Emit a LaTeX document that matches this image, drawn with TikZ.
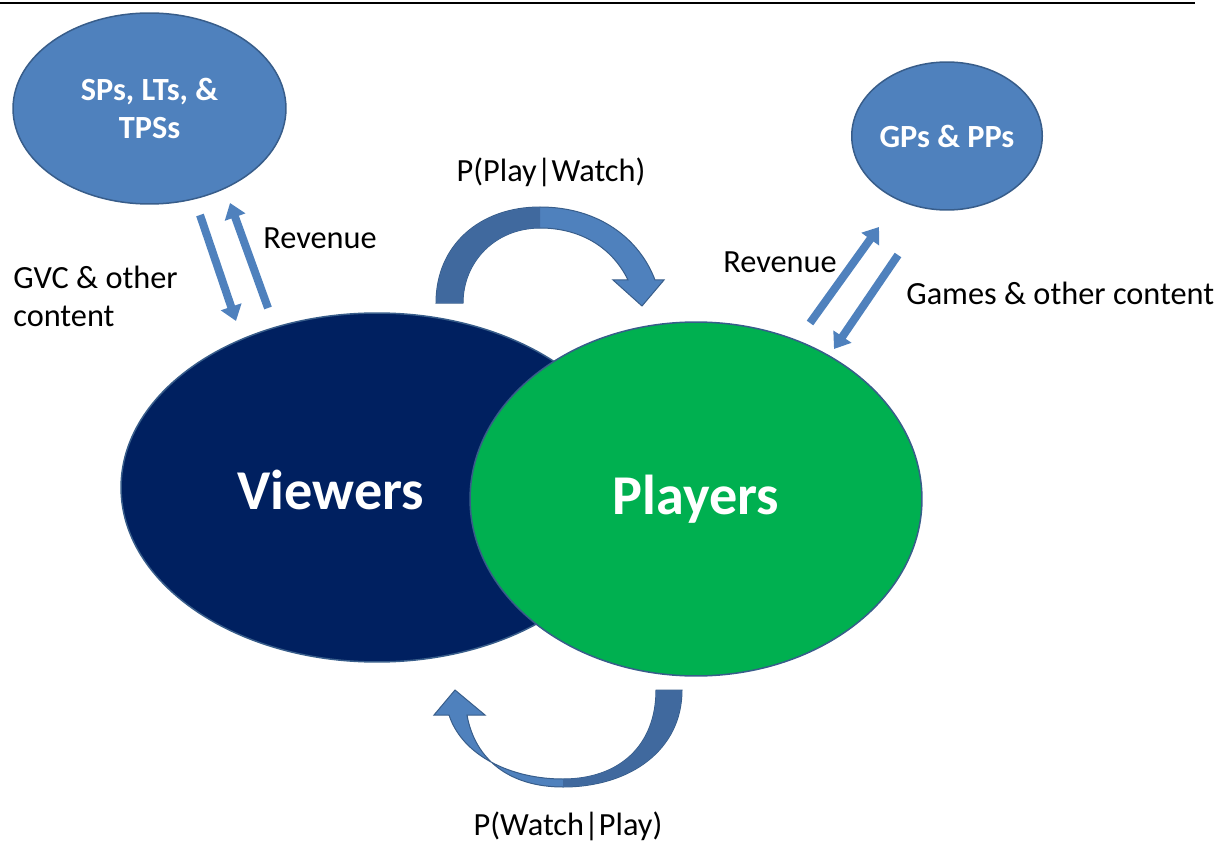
\documentclass[tikz,border=0pt]{standalone}
\usepackage{fontspec}
\setmainfont{Carlito}
\usetikzlibrary{
    shapes.geometric,
    arrows.meta,
    positioning
}
\definecolor{ovalblue}{RGB}{79, 129, 189}
\definecolor{ovalline}{RGB}{56, 93, 138}
\definecolor{curvedark}{RGB}{64, 105, 158}
\definecolor{viewnavy}{RGB}{0, 32, 96}
\definecolor{playgreen}{RGB}{0, 176, 80}

\begin{document}
\begin{tikzpicture}[
        x=0.02cm, y=-0.02cm,
        oval/.style={ellipse, draw=ovalline, line width=0.03cm, inner sep=0pt, text=white, align=center, font=\fontsize{18.4}{21.5}\selectfont\bfseries},
        big/.style={oval, font=\fontsize{32}{36}\selectfont\bfseries},
        lbl/.style={inner sep=0pt, align=left, font=\fontsize{18.4}{21.5}\selectfont},
        blockarrow/.style={draw=ovalblue, line width=0.16cm, -{Triangle[width=0.42cm, length=0.3cm]}},
        curve/.style={fill=ovalblue, draw=ovalline, line width=0.02cm}
    ]
        \useasboundingbox (0,0) rectangle (1217,841);
        \draw[line width=0.04cm] (0,3) -- (1195,3);

        \node[oval, fill=ovalblue, minimum width=5.46cm, minimum height=3.82cm] (sps) at (149.5,108.5) {SPs, LTs, \&\\TPSs};
        \node[oval, fill=ovalblue, minimum width=3.8cm, minimum height=2.96cm] (gps) at (947,136) {GPs \& PPs};
        \node[big, fill=viewnavy, minimum width=10.24cm, minimum height=6.98cm] (viewers) at (377,487.5) {};
        \node[big, draw=none] (viewtxt) at (331,490) {Viewers};
        \node[big, fill=playgreen, minimum width=9.04cm, minimum height=7.08cm] (players) at (696,499) {Players};

        % content and revenue arrows
        \coordinate (a1) at (200,215);
        \coordinate (a2) at (236,321);
        \coordinate (b1) at (268,308);
        \coordinate (b2) at (230,203);
        \coordinate (c1) at (810,323);
        \coordinate (c2) at (879,227);
        \coordinate (d1) at (898,255);
        \coordinate (d2) at (834,349);
        \draw[blockarrow] (a1) -- (a2);
        \draw[blockarrow] (b1) -- (b2);
        \draw[blockarrow] (c1) -- (c2);
        \draw[blockarrow] (d1) -- (d2);

        % curved arrows
        \draw[curve] (436,303) .. controls (436,245) and (480,207) .. (540,207)
            .. controls (600,207) and (640,240) .. (655,280) -- (664,280) -- (642,306) -- (613,280) -- (628,280)
            .. controls (612,247) and (580,228) .. (540,228)
            .. controls (495,228) and (463,262) .. (463,303) -- cycle;
        \fill[curvedark] (436.5,302.5) .. controls (436.5,245) and (480,207.5) .. (540,207.5)
            -- (540,228) .. controls (495,228) and (463,262) .. (463,302.5) -- cycle;
        \draw[curve] (682,690) .. controls (682,750) and (630,787) .. (563,787)
            .. controls (510,787) and (475,760) .. (467,715) -- (485,715) -- (455,690) -- (434,715) -- (449,715)
            .. controls (462,755) and (510,779) .. (563,779)
            .. controls (620,779) and (656,745) .. (656,690) -- cycle;
        \fill[curvedark] (681.5,690.5) .. controls (681.5,750) and (630,786.5) .. (563,786.5)
            -- (563,779) .. controls (620,779) and (656.5,745) .. (656.5,690.5) -- cycle;

        \node[lbl] (pplay) at (551,172) {P(Play|Watch)};
        \node[lbl] (pwatch) at (568,826) {P(Watch|Play)};
        \node[lbl, anchor=west] (revleft) at (263,238) {Revenue};
        \node[lbl, anchor=north west] (gvc) at (13,266) {GVC \& other\\content};
        \node[lbl] (revright) at (780,262) {Revenue};
        \node[lbl, anchor=west] (games) at (906,293) {Games \& other content};
    \end{tikzpicture}
\end{document}
